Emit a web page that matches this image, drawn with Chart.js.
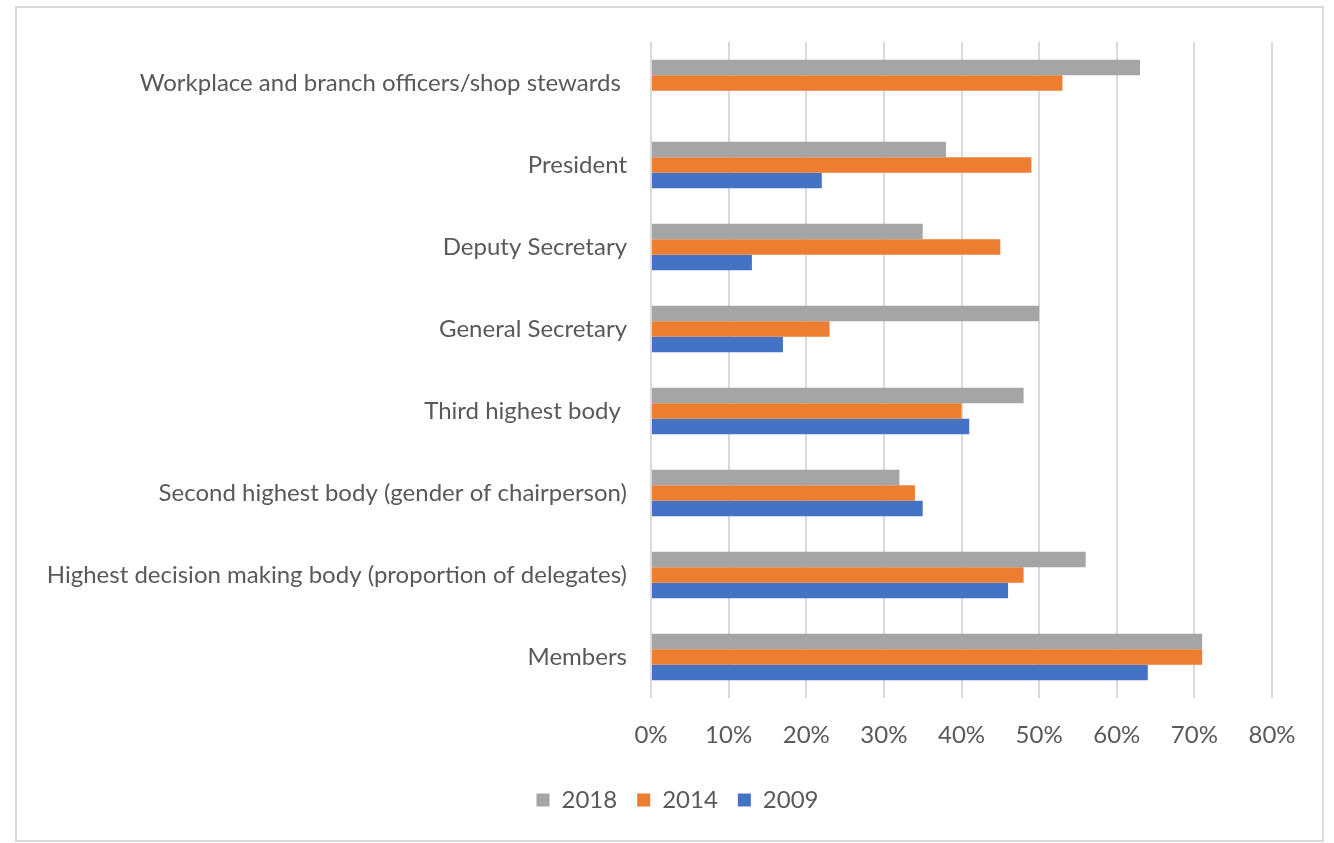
<!DOCTYPE html>
<html>
<head>
<meta charset="utf-8">
<script src="https://cdn.jsdelivr.net/npm/chart.js@4/dist/chart.umd.min.js"></script>
<style>
    body { margin: 0; background: #fff; }
    #frame {
        position: absolute;
        left: 15px; top: 6px;
        width: 1305px; height: 832px;
        border: 2px solid #d9d9d9;
    }
</style>
</head>
<body>
<div id="frame"><canvas id="chart-area" width="1305" height="832"></canvas></div>
<script>
var categories = [
    "Workplace and branch officers/shop stewards ",
    "President",
    "Deputy Secretary",
    "General Secretary",
    "Third highest body ",
    "Second highest body (gender of chairperson)",
    "Highest decision making body (proportion of delegates)",
    "Members"
];

var years = ["2018", "2014", "2009"];

var values2018 = [0.63, 0.38, 0.35, 0.50, 0.48, 0.32, 0.56, 0.71];
var values2014 = [0.53, 0.49, 0.45, 0.23, 0.40, 0.34, 0.48, 0.71];
var values2009 = [null, 0.22, 0.13, 0.17, 0.41, 0.35, 0.46, 0.64];

var xTicks = [0, 0.1, 0.2, 0.3, 0.4, 0.5, 0.6, 0.7, 0.8];

var colors = ['#A5A5A5', '#ED7D31', '#4472C4'];
var textColor = '#595959';
var fontFamily = 'Lato, "Open Sans", sans-serif';

var config = {
    type: 'bar',
    data: {
        labels: categories,
        datasets: [
            { label: years[0], data: values2018, backgroundColor: colors[0] },
            { label: years[1], data: values2014, backgroundColor: colors[1] },
            { label: years[2], data: values2009, backgroundColor: colors[2] }
        ]
    },
    options: {
        indexAxis: 'y',
        responsive: false,
        animation: false,
        layout: {
            padding: { top: 34, right: 0, bottom: 18, left: 16 }
        },
        datasets: {
            bar: { categoryPercentage: 0.57, barPercentage: 1.0 }
        },
        scales: {
            x: {
                min: 0,
                max: 0.8,
                afterBuildTicks: function(scale) {
                    scale.ticks = xTicks.map(function(v) { return { value: v }; });
                },
                afterFit: function(scale) {
                    scale.height = 70;
                    scale.paddingLeft = 0;
                    scale.paddingRight = 0;
                },
                grid: { color: '#d9d9d9', lineWidth: 2, drawTicks: false },
                border: { display: false },
                ticks: {
                    padding: 23,
                    color: textColor,
                    font: { size: 24, family: fontFamily },
                    callback: function(v) { return Math.round(v * 100) + '%'; }
                }
            },
            y: {
                grid: { display: false, drawTicks: false },
                border: { display: false },
                afterFit: function(scale) {
                    scale.width = 618;
                    scale.paddingTop = 0;
                    scale.paddingBottom = 0;
                },
                ticks: {
                    padding: 24,
                    color: textColor,
                    font: { size: 24, family: fontFamily }
                }
            },
            // empty right-hand spacer so the legend centres on the whole frame
            spacer: {
                type: 'linear',
                position: 'right',
                grid: { display: false, drawTicks: false },
                border: { display: false },
                ticks: { display: false },
                afterFit: function(scale) {
                    scale.width = 50;
                    scale.paddingTop = 0;
                    scale.paddingBottom = 0;
                }
            }
        },
        plugins: {
            tooltip: { enabled: false },
            legend: {
                position: 'bottom',
                labels: {
                    boxWidth: 13,
                    boxHeight: 13,
                    padding: 20,
                    color: textColor,
                    font: { size: 24, family: fontFamily }
                }
            }
        }
    }
};

window.onload = function() {
    var ctx = document.getElementById("chart-area").getContext("2d");
    window.myBar = new Chart(ctx, config);
};
</script>
</body>
</html>
